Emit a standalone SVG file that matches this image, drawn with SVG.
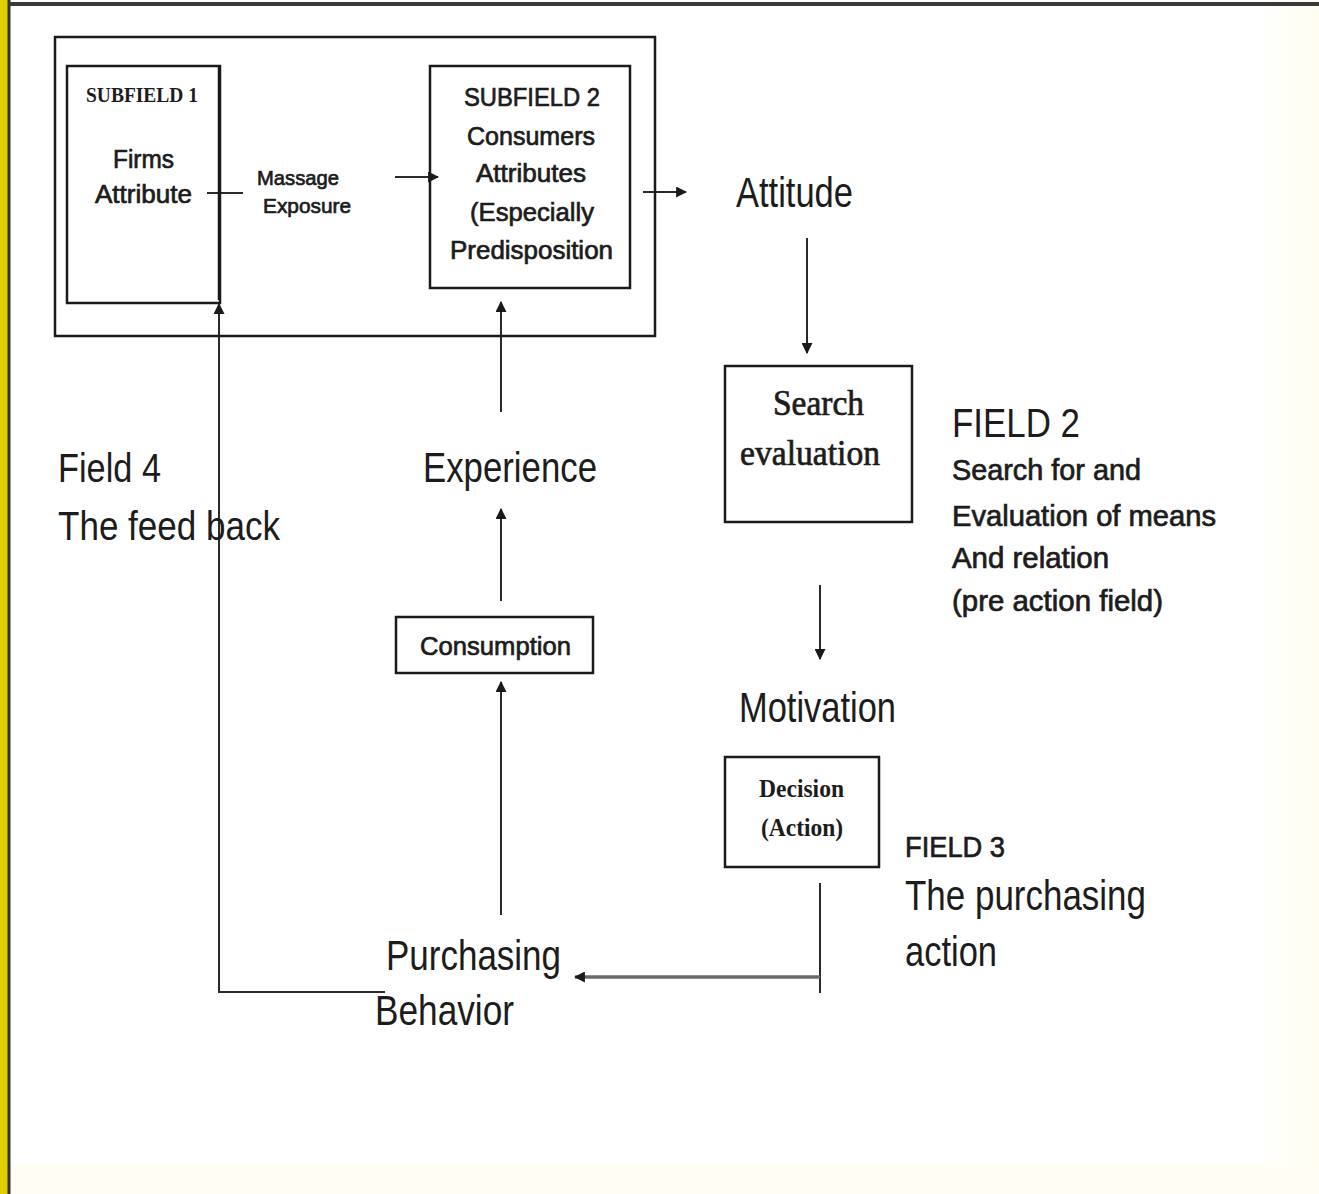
<svg xmlns="http://www.w3.org/2000/svg" width="1319" height="1194" viewBox="0 0 1319 1194">
  <defs>
    <style>
      .box { fill: none; stroke: #1a1a1a; stroke-width: 2.5; }
      .line { fill: none; stroke: #2a2a2a; stroke-width: 2; }
      .sans { font-family: "Liberation Sans", Arial, sans-serif; fill: #1c1c1c; }
      .serif { font-family: "Liberation Serif", "Times New Roman", serif; fill: #1c1c1c; font-weight: bold; }
      .serif-plain { font-family: "Liberation Serif", "Times New Roman", serif; fill: #1c1c1c; font-weight: normal; stroke: #1c1c1c; stroke-width: 0.7; }
      .inner { font-size: 26px; stroke: #1c1c1c; stroke-width: 0.7; }
      .big { font-size: 42px; }
      .mid { font-size: 29px; stroke: #1c1c1c; stroke-width: 0.7; }
    </style>
    <marker id="arrow" viewBox="0 0 10 10" refX="9" refY="5" markerWidth="11" markerHeight="11" markerUnits="userSpaceOnUse" orient="auto">
      <path d="M0,0 L10,5 L0,10 z" fill="#1a1a1a"/>
    </marker>
    <linearGradient id="bgfade" x1="0" y1="0" x2="1" y2="0">
      <stop offset="0" stop-color="#ffffff"/>
      <stop offset="0.95" stop-color="#ffffff"/>
      <stop offset="1" stop-color="#fffdf0"/>
    </linearGradient>
  </defs>

  <!-- slide background and frame -->
  <rect x="0" y="0" width="1319" height="1194" fill="url(#bgfade)"/>
  <rect x="0" y="1165" width="1319" height="29" fill="#fffdf4"/>
  <rect x="0" y="0" width="8" height="1194" fill="#e0cf00"/>
  <line x1="9" y1="0" x2="9" y2="1194" stroke="#333" stroke-width="3"/>
  <line x1="8" y1="4" x2="1319" y2="4" stroke="#3a3a3a" stroke-width="4"/>

  <!-- connectors -->
  <g id="connectors">
    <line class="line" x1="207" y1="193" x2="243" y2="193"/>
    <line class="line" x1="395" y1="177" x2="438" y2="177" marker-end="url(#arrow)"/>
    <line class="line" x1="643" y1="192" x2="686" y2="192" marker-end="url(#arrow)"/>
    <line class="line" x1="807" y1="238" x2="807" y2="353" marker-end="url(#arrow)"/>
    <line class="line" x1="820" y1="585" x2="820" y2="659" marker-end="url(#arrow)"/>
    <line class="line" x1="820" y1="883" x2="820" y2="993"/>
    <line x1="820" y1="977" x2="575" y2="977" stroke="#6a6a6a" stroke-width="3.5" marker-end="url(#arrow)"/>
    <line class="line" x1="501" y1="915" x2="501" y2="682" marker-end="url(#arrow)"/>
    <line class="line" x1="501" y1="601" x2="501" y2="509" marker-end="url(#arrow)"/>
    <line class="line" x1="501" y1="412" x2="501" y2="302" marker-end="url(#arrow)"/>
    <polyline class="line" points="385,992 219,992 219,304" marker-end="url(#arrow)"/>
    <line x1="219" y1="300" x2="219" y2="66" stroke="#1a1a1a" stroke-width="2.5"/>
  </g>

  <!-- field 1 container -->
  <g id="field1">
    <rect class="box" x="55" y="37" width="600" height="299"/>
  </g>

  <g id="subfield1">
    <rect class="box" x="67" y="66" width="153" height="237"/>
    <text class="serif" x="86" y="102" font-size="21" textLength="112" lengthAdjust="spacingAndGlyphs">SUBFIELD 1</text>
    <text class="sans inner" x="113" y="168" textLength="61" lengthAdjust="spacingAndGlyphs">Firms</text>
    <text class="sans inner" x="95" y="203" textLength="97" lengthAdjust="spacingAndGlyphs">Attribute</text>
  </g>

  <g id="message-exposure">
    <text class="sans" x="257" y="185" font-size="21" stroke="#1c1c1c" stroke-width="0.7" textLength="82" lengthAdjust="spacingAndGlyphs">Massage</text>
    <text class="sans" x="263" y="213" font-size="21" stroke="#1c1c1c" stroke-width="0.7" textLength="88" lengthAdjust="spacingAndGlyphs">Exposure</text>
  </g>

  <g id="subfield2">
    <rect class="box" x="430" y="66" width="200" height="222"/>
    <text class="sans inner" x="464" y="106" textLength="136" lengthAdjust="spacingAndGlyphs">SUBFIELD 2</text>
    <text class="sans inner" x="467" y="145" textLength="128" lengthAdjust="spacingAndGlyphs">Consumers</text>
    <text class="sans inner" x="476" y="182" textLength="110" lengthAdjust="spacingAndGlyphs">Attributes</text>
    <text class="sans inner" x="470" y="221" textLength="124" lengthAdjust="spacingAndGlyphs">(Especially</text>
    <text class="sans inner" x="450" y="259" textLength="163" lengthAdjust="spacingAndGlyphs">Predisposition</text>
  </g>

  <g id="attitude">
    <text class="sans big" x="736" y="207" textLength="117" lengthAdjust="spacingAndGlyphs">Attitude</text>
  </g>

  <g id="search-evaluation">
    <rect class="box" x="725" y="366" width="187" height="156"/>
    <text class="serif-plain" x="773" y="415" font-size="35" textLength="91" lengthAdjust="spacingAndGlyphs">Search</text>
    <text class="serif-plain" x="740" y="465" font-size="35" textLength="140" lengthAdjust="spacingAndGlyphs">evaluation</text>
  </g>

  <g id="field2">
    <text class="sans" x="952" y="437" font-size="40" textLength="128" lengthAdjust="spacingAndGlyphs">FIELD 2</text>
    <text class="sans mid" x="952" y="480" textLength="189" lengthAdjust="spacingAndGlyphs">Search for and</text>
    <text class="sans mid" x="952" y="526" textLength="264" lengthAdjust="spacingAndGlyphs">Evaluation of means</text>
    <text class="sans mid" x="952" y="568" textLength="157" lengthAdjust="spacingAndGlyphs">And relation</text>
    <text class="sans mid" x="952" y="611" textLength="211" lengthAdjust="spacingAndGlyphs">(pre action field)</text>
  </g>

  <g id="motivation">
    <text class="sans big" x="739" y="722" textLength="157" lengthAdjust="spacingAndGlyphs">Motivation</text>
  </g>

  <g id="decision">
    <rect class="box" x="725" y="757" width="154" height="110"/>
    <text class="serif" x="759" y="797" font-size="26" textLength="85" lengthAdjust="spacingAndGlyphs">Decision</text>
    <text class="serif" x="761" y="836" font-size="26" textLength="82" lengthAdjust="spacingAndGlyphs">(Action)</text>
  </g>

  <g id="field3">
    <text class="sans mid" x="905" y="857" textLength="100" lengthAdjust="spacingAndGlyphs">FIELD 3</text>
    <text class="sans big" x="905" y="910" textLength="241" lengthAdjust="spacingAndGlyphs">The purchasing</text>
    <text class="sans big" x="905" y="966" textLength="92" lengthAdjust="spacingAndGlyphs">action</text>
  </g>

  <g id="purchasing-behavior">
    <text class="sans big" x="386" y="970" textLength="175" lengthAdjust="spacingAndGlyphs">Purchasing</text>
    <text class="sans big" x="375" y="1025" textLength="139" lengthAdjust="spacingAndGlyphs">Behavior</text>
  </g>

  <g id="consumption">
    <rect class="box" x="396" y="617" width="197" height="56"/>
    <text class="sans inner" x="420" y="655" textLength="151" lengthAdjust="spacingAndGlyphs">Consumption</text>
  </g>

  <g id="experience">
    <text class="sans big" x="423" y="482" textLength="174" lengthAdjust="spacingAndGlyphs">Experience</text>
  </g>

  <g id="field4">
    <text class="sans" x="58" y="482" font-size="40" textLength="103" lengthAdjust="spacingAndGlyphs">Field 4</text>
    <text class="sans" x="58" y="540" font-size="40" textLength="222" lengthAdjust="spacingAndGlyphs">The feed back</text>
  </g>
</svg>
